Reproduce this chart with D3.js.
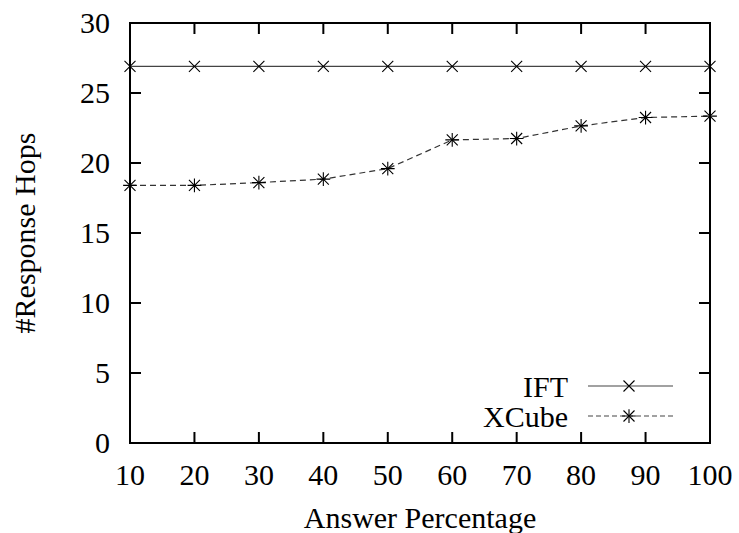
<!DOCTYPE html>
<html>
<head>
<meta charset="utf-8">
<script src="https://cdn.jsdelivr.net/npm/d3@7"></script>
<style>
  body { margin: 0; background: #fff; }
</style>
</head>
<body>
<div id="chart"></div>
<script>
const W = 739, H = 533;
const margin = {left: 130, right: 29, top: 23, bottom: 90};

const percents = [10, 20, 30, 40, 50, 60, 70, 80, 90, 100];
const iftHops = [26.9, 26.9, 26.9, 26.9, 26.9, 26.9, 26.9, 26.9, 26.9, 26.9];
const xcubeHops = [18.4, 18.4, 18.6, 18.85, 19.6, 21.65, 21.75, 22.65, 23.25, 23.35];
const yTicks = [0, 5, 10, 15, 20, 25, 30];
const seriesNames = ["IFT", "XCube"];

const font_size = 30;
const tick_len = 11;

const svg = d3.select("#chart").append("svg")
    .attr("width", W)
    .attr("height", H)
    .attr("font-family", "'Liberation Serif', 'Times New Roman', Times, serif");

const x = d3.scaleLinear().domain([10, 100]).range([margin.left, W - margin.right]);
const y = d3.scaleLinear().domain([0, 30]).range([H - margin.bottom, margin.top]);

// frame
svg.append("rect")
    .attr("x", x(10)).attr("y", y(30))
    .attr("width", x(100) - x(10)).attr("height", y(0) - y(30))
    .attr("fill", "none").attr("stroke", "#000").attr("stroke-width", 2);

// ticks, inward on all four sides
const ticks = svg.append("g").attr("stroke", "#000").attr("stroke-width", 2);
percents.forEach(v => {
  ticks.append("line").attr("x1", x(v)).attr("x2", x(v)).attr("y1", y(0)).attr("y2", y(0) - tick_len);
  ticks.append("line").attr("x1", x(v)).attr("x2", x(v)).attr("y1", y(30)).attr("y2", y(30) + tick_len);
});
yTicks.forEach(v => {
  ticks.append("line").attr("x1", x(10)).attr("x2", x(10) + tick_len).attr("y1", y(v)).attr("y2", y(v));
  ticks.append("line").attr("x1", x(100)).attr("x2", x(100) - tick_len).attr("y1", y(v)).attr("y2", y(v));
});

// tick labels
svg.append("g").selectAll("text").data(percents).join("text")
    .attr("x", d => x(d))
    .attr("y", y(0) + 42)
    .attr("text-anchor", "middle")
    .attr("font-size", font_size)
    .text(d => d);

svg.append("g").selectAll("text").data(yTicks).join("text")
    .attr("x", x(10) - 20)
    .attr("y", d => y(d) + 10)
    .attr("text-anchor", "end")
    .attr("font-size", font_size)
    .text(d => d);

// axis titles
svg.append("text")
    .attr("x", (x(10) + x(100)) / 2)
    .attr("y", 528)
    .attr("text-anchor", "middle")
    .attr("font-size", font_size)
    .text("Answer Percentage");

svg.append("text")
    .attr("transform", `translate(35,${(y(0) + y(30)) / 2}) rotate(-90)`)
    .attr("text-anchor", "middle")
    .attr("font-size", font_size)
    .text("#Response Hops");

// markers
function crossMark(g, cx, cy, r) {
  g.append("path")
    .attr("d", `M${cx - r},${cy - r}L${cx + r},${cy + r}M${cx - r},${cy + r}L${cx + r},${cy - r}`)
    .attr("stroke", "#000").attr("stroke-width", 1.1).attr("fill", "none");
}
function starMark(g, cx, cy, r) {
  crossMark(g, cx, cy, r);
  g.append("path")
    .attr("d", `M${cx},${cy - r * 1.25}L${cx},${cy + r * 1.25}M${cx - r * 1.25},${cy}L${cx + r * 1.25},${cy}`)
    .attr("stroke", "#000").attr("stroke-width", 1.1).attr("fill", "none");
}

const line = d3.line().x(d => x(d[0])).y(d => y(d[1]));

const iftData = percents.map((p, i) => [p, iftHops[i]]);
const xcubeData = percents.map((p, i) => [p, xcubeHops[i]]);

svg.append("path").datum(iftData)
    .attr("d", line)
    .attr("fill", "none").attr("stroke", "#444").attr("stroke-width", 1.2);

svg.append("path").datum(xcubeData)
    .attr("d", line)
    .attr("fill", "none").attr("stroke", "#333").attr("stroke-width", 1.2)
    .attr("stroke-dasharray", "6,4");

const marks = svg.append("g");
iftData.forEach(d => crossMark(marks, x(d[0]), y(d[1]), 5.5));
xcubeData.forEach(d => starMark(marks, x(d[0]), y(d[1]), 5.5));

// legend
const legend = svg.append("g");
const legRows = [{name: seriesNames[0], yy: 386, dash: null, mark: crossMark},
                 {name: seriesNames[1], yy: 416, dash: "5,3", mark: starMark}];
legRows.forEach(r => {
  legend.append("text")
    .attr("x", 568).attr("y", r.yy + 11)
    .attr("text-anchor", "end")
    .attr("font-size", font_size)
    .text(r.name);
  legend.append("line")
    .attr("x1", 588).attr("x2", 673).attr("y1", r.yy).attr("y2", r.yy)
    .attr("stroke", "#444").attr("stroke-width", 1.2)
    .attr("stroke-dasharray", r.dash);
  r.mark(legend, 629, r.yy, 5.5);
});
</script>
</body>
</html>
